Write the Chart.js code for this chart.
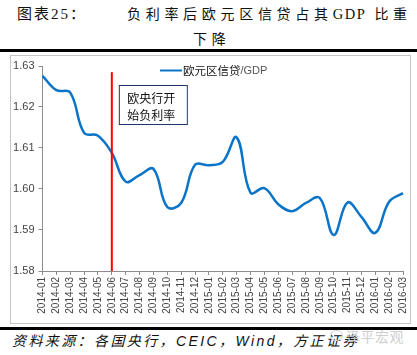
<!DOCTYPE html>
<html>
<head>
<meta charset="utf-8">
<script src="https://cdn.jsdelivr.net/npm/chart.js@4"></script>
<style>
  html, body { margin:0; padding:0; background:#fff; }
  body { width:417px; height:355px; position:relative; overflow:hidden; font-family:"Noto Sans CJK SC", sans-serif; }
  .title { position:absolute; font-size:14px; color:#111; font-family:"Liberation Serif","Noto Sans CJK SC",serif; white-space:nowrap; line-height:20px; }
  .cj { letter-spacing:4.7px; }
  .la { letter-spacing:1.5px; font-size:14.5px; }
  .rule { position:absolute; left:0; width:417px; height:3px; background:#000; }
  .frame { position:absolute; left:10px; top:55px; width:399px; height:267px; border:1px solid #c4c4c4; }
  .foot { position:absolute; left:12px; top:331px; font-size:14px; font-style:italic; color:#111; letter-spacing:2.4px; white-space:nowrap; line-height:20px; font-family:"Liberation Sans","Noto Sans CJK SC",sans-serif; }
  .wm { position:absolute; left:346px; top:327px; font-size:14px; color:#cfcfcf; white-space:nowrap; line-height:18px; letter-spacing:0.5px; }
  .logo { position:absolute; left:330px; top:330px; width:11px; height:9px; border:1.5px solid #d6d6d6; border-radius:50%; }
  canvas { position:absolute; left:0; top:0; }
</style>
</head>
<body>
<div class="title" style="left:17px; top:4px; letter-spacing:2px; font-size:15px;">图表25：</div>
<div class="title" style="left:127px; top:4px;"><span class="cj">负利率后欧元区信贷占其</span><span class="la">GDP</span><span class="cj"> 比重</span></div>
<div class="title cj" style="left:193px; top:30px;">下降</div>
<div class="rule" style="top:49px"></div>
<div class="frame"></div>
<div class="rule" style="top:327px"></div>
<div class="foot">资料来源：各国央行，CEIC，Wind，方正证券</div>
<div class="logo"></div>
<div class="wm">泽平宏观</div>
<canvas id="c" width="417" height="355"></canvas>
<script>
const categories = ["2014-01","2014-02","2014-03","2014-04","2014-05","2014-06","2014-07","2014-08","2014-09","2014-10","2014-11","2014-12","2015-01","2015-02","2015-03","2015-04","2015-05","2015-06","2015-07","2015-08","2015-09","2015-10","2015-11","2015-12","2016-01","2016-02","2016-03"];
const creditToGdp = [1.6276,1.6241,1.6235,1.6137,1.6130,1.6088,1.6018,1.6034,1.6049,1.5956,1.5966,1.6059,1.6058,1.6066,1.6126,1.5991,1.6002,1.5963,1.5946,1.5966,1.5978,1.5888,1.5967,1.5932,1.5893,1.5969,1.5990];
const yTicks = [1.58,1.59,1.60,1.61,1.62,1.63];
const seriesName = "欧元区信贷/GDP";
const markerCategory = "2014-06";
const markerRange = [1.58, 1.6285];
const markerNote = ["欧央行开", "始负利率"];

const overlay = {
  id: 'overlay',
  afterDatasetsDraw(chart) {
    const {ctx, chartArea, scales:{x, y}} = chart;
    const px = x.getPixelForValue(categories.indexOf(markerCategory));
    ctx.save();
    ctx.strokeStyle = '#ff0000';
    ctx.lineWidth = 2;
    ctx.beginPath();
    ctx.moveTo(px, y.getPixelForValue(markerRange[1]));
    ctx.lineTo(px, y.getPixelForValue(markerRange[0]));
    ctx.stroke();
    const bx = px + 7.5, by = chartArea.top + 19.5, bw = 68, bh = 39;
    ctx.fillStyle = '#fff';
    ctx.fillRect(bx, by, bw, bh);
    ctx.strokeStyle = '#1f3864';
    ctx.lineWidth = 1;
    ctx.strokeRect(bx, by, bw, bh);
    ctx.fillStyle = '#111';
    ctx.font = '12px "Noto Sans CJK SC"';
    ctx.textBaseline = 'middle';
    ctx.textAlign = 'left';
    ctx.fillText(markerNote[0], bx + 8, by + 13);
    ctx.fillText(markerNote[1], bx + 8, by + 30);
    const ly = chartArea.top + 4.5;
    ctx.strokeStyle = '#0a74c8';
    ctx.lineWidth = 2;
    ctx.beginPath();
    ctx.moveTo(160, ly);
    ctx.lineTo(182, ly);
    ctx.stroke();
    ctx.font = '11.5px "Noto Sans CJK SC"';
    const cn = seriesName.slice(0, 5), en = seriesName.slice(5);
    ctx.fillStyle = '#111';
    ctx.fillText(cn, 183, ly + 0.5);
    const w = ctx.measureText(cn).width;
    ctx.fillStyle = '#555';
    ctx.font = '11px "Liberation Sans"';
    ctx.fillText(en, 183 + w, ly + 0.5);
    ctx.restore();
  }
};

new Chart(document.getElementById('c'), {
  type: 'line',
  data: {
    labels: categories,
    datasets: [{
      label: seriesName,
      data: creditToGdp,
      borderColor: '#0a74c8',
      borderWidth: 2.5,
      pointRadius: 0,
      tension: 0.4,
      fill: false
    }]
  },
  options: {
    responsive: false,
    animation: false,
    layout: { padding: { left: 10, right: 12, top: 66, bottom: 0 } },
    plugins: { legend: { display: false }, tooltip: { enabled: false }, title: { display: false } },
    scales: {
      x: {
        type: 'category',
        offset: false,
        afterFit: (s) => { s.height = 84; },
        grid: { display: true, drawOnChartArea: false, drawTicks: true, tickLength: 4, color: '#8c8c8c' },
        border: { display: true, color: '#8c8c8c' },
        ticks: { autoSkip: false, maxRotation: 90, minRotation: 90, padding: 2, color: '#444', font: { family: 'Liberation Sans', size: 10 } }
      },
      y: {
        min: yTicks[0],
        max: yTicks[yTicks.length - 1],
        afterFit: (s) => { s.width = 32.5; },
        afterBuildTicks: (s) => { s.ticks = yTicks.map(v => ({ value: v })); },
        grid: { display: true, drawOnChartArea: false, drawTicks: true, tickLength: 4, color: '#8c8c8c' },
        border: { display: true, color: '#8c8c8c' },
        ticks: { padding: 4, color: '#444', font: { family: 'Liberation Sans', size: 11 }, callback: (v) => Number(v).toFixed(2) }
      }
    }
  },
  plugins: [overlay]
});
</script>
</body>
</html>
